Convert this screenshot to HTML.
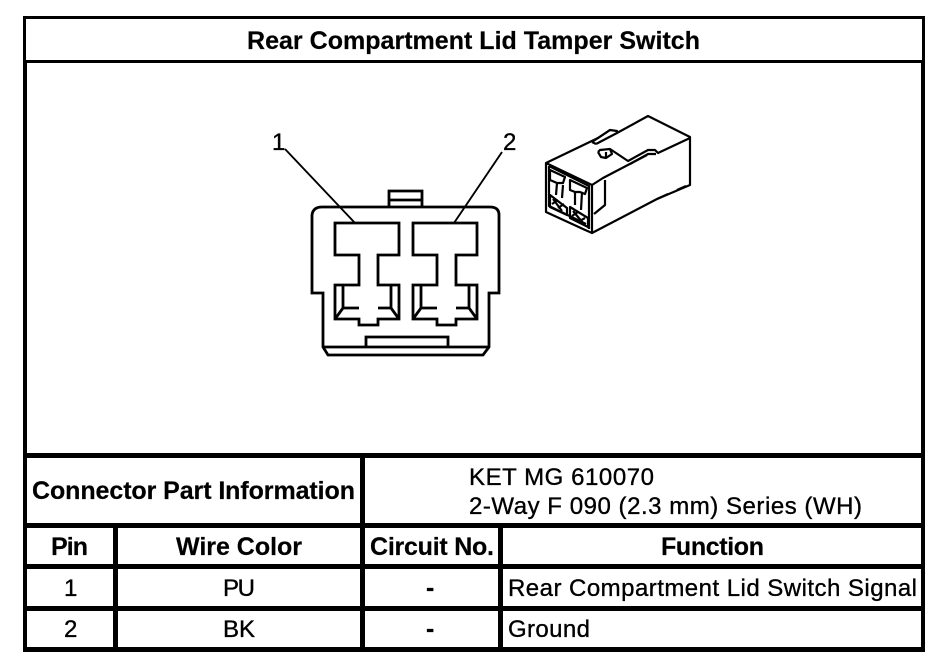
<!DOCTYPE html>
<html><head><meta charset="utf-8"><style>
html,body{margin:0;padding:0;background:#fff}
svg{display:block}
text{font-family:"Liberation Sans",sans-serif;fill:#000}
.b{font-weight:bold;font-size:25px;stroke:#000;stroke-width:.2}
.r{font-size:24px;stroke:#000;stroke-width:.35}
.c{fill:none;stroke:#000;stroke-width:2.8;stroke-linejoin:miter}
.d{fill:none;stroke:#000;stroke-width:2.2;stroke-linejoin:round}
</style></head><body>
<svg width="944" height="670" viewBox="0 0 944 670" xmlns="http://www.w3.org/2000/svg">
<rect width="944" height="670" fill="#fff"/>
<g fill="#000">
<rect x="23" y="16" width="902" height="3"/>
<rect x="23" y="60" width="902" height="3"/>
<rect x="23" y="16" width="3" height="46"/>
<rect x="922" y="16" width="3" height="46"/>
<rect x="23" y="60" width="4" height="592"/>
<rect x="921" y="60" width="4" height="592"/>
<rect x="23" y="453" width="902" height="5"/>
<rect x="23" y="523" width="902" height="5"/>
<rect x="23" y="564" width="902" height="5"/>
<rect x="23" y="606" width="902" height="5"/>
<rect x="23" y="647" width="902" height="5"/>
<rect x="360" y="453" width="5" height="199"/>
<rect x="113" y="523" width="5" height="129"/>
<rect x="498" y="523" width="5" height="129"/>
</g>

<text class="b" x="247" y="49" textLength="453" lengthAdjust="spacing">Rear Compartment Lid Tamper Switch</text>
<text class="b" x="32" y="499" textLength="323" lengthAdjust="spacing">Connector Part Information</text>
<text class="r" x="469" y="485" textLength="185" lengthAdjust="spacing">KET MG 610070</text>
<text class="r" x="469" y="514" textLength="393" lengthAdjust="spacing">2-Way F 090 (2.3 mm) Series (WH)</text>
<text class="b" x="51" y="555" textLength="37" lengthAdjust="spacing">Pin</text>
<text class="b" x="176" y="555" textLength="126" lengthAdjust="spacing">Wire Color</text>
<text class="b" x="370" y="555" textLength="124" lengthAdjust="spacing">Circuit No.</text>
<text class="b" x="661" y="555" textLength="103" lengthAdjust="spacing">Function</text>
<text class="r" x="64" y="596">1</text>
<text class="r" x="223" y="596" textLength="32" lengthAdjust="spacing">PU</text>
<text class="b" x="426" y="596">-</text>
<text class="r" x="508" y="596" textLength="409" lengthAdjust="spacing">Rear Compartment Lid Switch Signal</text>
<text class="r" x="64" y="637">2</text>
<text class="r" x="223" y="637" textLength="32" lengthAdjust="spacing">BK</text>
<text class="b" x="426" y="637">-</text>
<text class="r" x="508" y="637" textLength="82" lengthAdjust="spacing">Ground</text>

<text class="r" x="272" y="150">1</text>
<text class="r" x="503" y="150">2</text>

<!-- front view connector -->
<g class="c">
<path d="M285 149L355 223M502 152L454 223" stroke-width="1.9"/>
<path d="M312 293V215Q313 207 322 207H490Q499 207 499 215V293H489V347L483 355H328L323 347V293Z"/>
<path d="M323 347H489"/>
<path d="M389 207V191H422V207M389 200H422"/>
<path d="M366 347V337H448V347"/>
<path d="M335 223H399V255H378V285H399V319H378V325H359V319H335V285H359V255H335Z"/>
<path d="M343 285V308H359M335 319L343 308M391 285V308H378M399 319L391 308"/>
<g transform="translate(78 0)">
<path d="M335 223H399V255H378V285H399V319H378V325H359V319H335V285H359V255H335Z"/>
<path d="M343 285V308H359M335 319L343 308M391 285V308H378M399 319L391 308"/>
</g>
</g>

<!-- 3D connector -->
<g class="d">
<path d="M546 163L598 138L610 130L617 131L617 133L648 116L690 137V185L657 199L592 233L583 229L546 212Z"/>
<path d="M546 163L592 185V233"/>
<path d="M549 166L589 186V229"/>
<path d="M592 185L603 178L647 155"/>
<path d="M605 180V205L594 214"/>
<path d="M592 142L610 130M596 144L617 133M592 142L596 144"/>
<path d="M598 152L600 150L610 149L628 161L648 150L655 150L658 153L690 138"/>
<path d="M630 164L648 154L656 154"/>
<path d="M598 152L601 157L606 158L612 154L610 149M606 158L606 152"/>
<path d="M677 190L686 186M657 199L668 194"/>
<path d="M549 166V206L586 224"/>
<path d="M550 170L565 177L563 183H557L550 180Z"/>
<path d="M570 180L587 188L585 194L580 192H575L570 190Z"/>
<path d="M557 183L556 195M563 185L562 198M575 192V205M582 192L581 210"/>
<path d="M550 195L567 208V215L550 207Z"/>
<path d="M570 207L588 218V227L570 218Z"/>
<path d="M553 199L562 211M558 200L552 204M573 211L583 223M578 212L572 216M564 204L558 208M585 218L578 222"/>
</g>
</svg>
</body></html>
